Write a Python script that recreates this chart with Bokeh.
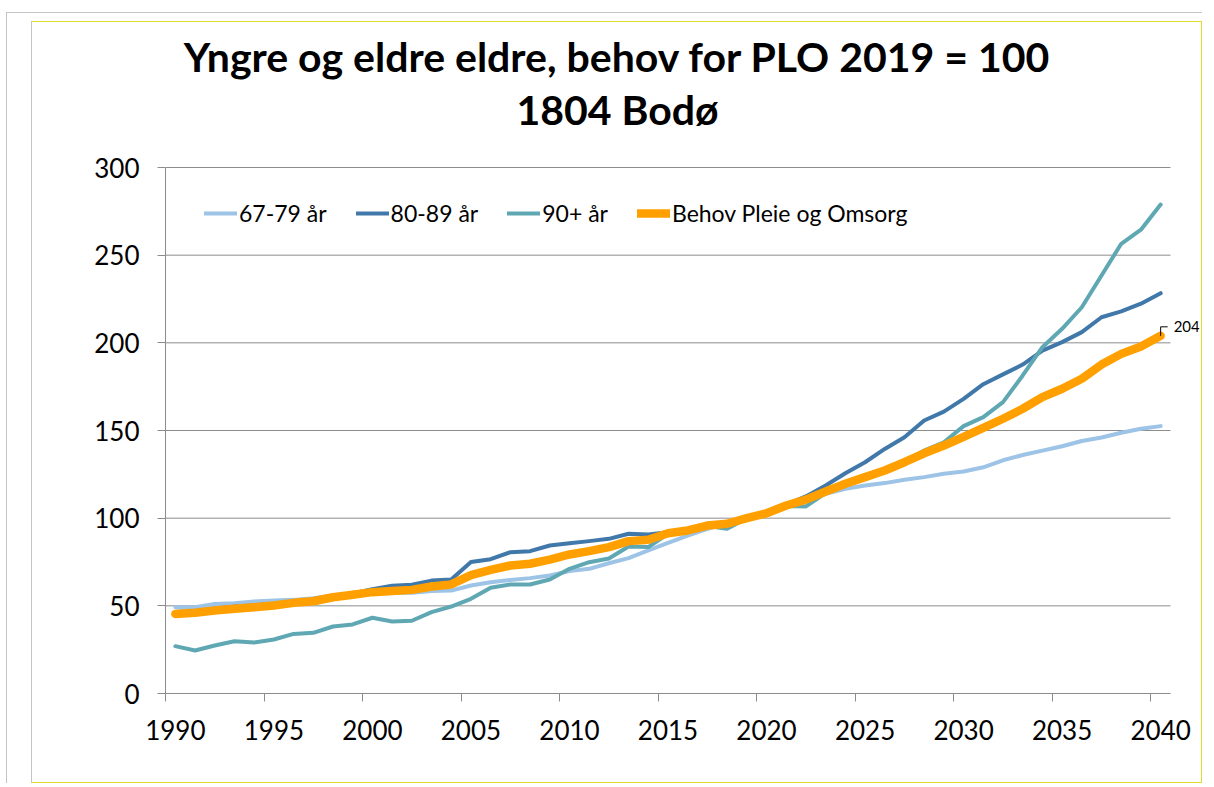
from bokeh.plotting import figure
from bokeh.layouts import column
from bokeh.models import FixedTicker, LinearAxis, Legend, LegendItem, Label, Range1d
from bokeh.embed import file_html
from bokeh.resources import INLINE

# ---------------- data ----------------
years = list(range(1990, 2041))

age_67_79 = [49.2, 49.2, 51.0, 51.5, 52.5, 53.0, 53.4, 54.4, 55.9, 56.8,
             58.2, 57.4, 57.4, 58.4, 58.7, 61.6, 63.5, 64.8, 65.8, 67.3,
             69.8, 71.1, 74.3, 77.2, 81.6, 85.9, 90.1, 93.9, 97.1, 100.0,
             102.5, 106.5, 110.0, 113.9, 116.8, 118.6, 120.0, 121.9, 123.4, 125.3,
             126.6, 129.0, 133.0, 136.0, 138.5, 141.0, 144.0, 146.0, 148.7, 151.0,
             152.5]

age_80_89 = [46.5, 47.0, 48.5, 49.5, 50.3, 51.2, 52.5, 53.5, 55.5, 57.0,
             59.5, 61.5, 62.0, 64.4, 65.0, 75.0, 76.6, 80.6, 81.2, 84.4,
             85.7, 86.9, 88.2, 91.1, 90.7, 92.0, 93.0, 95.5, 96.5, 100.0,
             102.8, 107.8, 112.4, 118.6, 125.6, 131.9, 139.5, 146.2, 155.7, 160.8,
             168.0, 176.4, 182.0, 187.6, 195.6, 200.4, 206.1, 214.6, 217.9, 222.3,
             228.3]

age_90_plus = [27.0, 24.5, 27.4, 29.8, 29.1, 30.8, 34.0, 34.6, 38.2, 39.4,
               43.2, 41.1, 41.5, 46.4, 49.6, 54.0, 60.3, 62.2, 62.2, 65.0,
               71.1, 74.9, 77.0, 83.8, 83.5, 91.0, 92.5, 95.5, 94.0, 100.0,
               102.5, 107.0, 106.7, 114.3, 119.6, 124.0, 127.5, 132.0, 138.6, 143.3,
               152.5, 157.6, 166.2, 181.4, 197.5, 208.0, 220.3, 238.4, 256.5, 264.5,
               278.9]

behov = [45.4, 46.0, 47.3, 48.3, 49.2, 50.2, 51.7, 52.6, 54.9, 56.3,
         57.8, 58.4, 59.1, 61.0, 62.2, 67.5, 70.5, 73.0, 74.0, 76.4,
         79.3, 81.2, 83.5, 86.9, 87.7, 91.4, 93.0, 95.8, 96.8, 100.0,
         102.8, 107.2, 110.6, 115.2, 119.6, 123.4, 127.2, 131.9, 137.0, 141.4,
         146.4, 151.5, 156.7, 162.4, 169.0, 173.8, 179.5, 187.6, 193.7, 197.9,
         204.0]

series_names = ["67-79 år", "80-89 år", "90+ år", "Behov Pleie og Omsorg"]
x_label_years = [1990, 1995, 2000, 2005, 2010, 2015, 2020, 2025, 2030, 2035, 2040]
x_tick_labels = ["1990", "1995", "2000", "2005", "2010", "2015", "2020", "2025", "2030", "2035", "2040"]
y_ticks = [0, 50, 100, 150, 200, 250, 300]
title_lines = ["Yngre og eldre eldre, behov for PLO 2019 = 100", "1804 Bodø"]

# ---------------- styling / layout ----------------
colors = ["#9dc3e6", "#4178aa", "#5fa8b3", "#ffa000"]
widths = [4, 4, 4, 8.5]
FONT = "Lato"
GRAY = "#8c8c8c"

W, H = 1171, 762                # canvas size (inside the chart frame)
AX_L, AX_B = 133, 671           # axis origin on canvas (px)
PX_YEAR = 1005 / 51             # px per category
PX_UNIT = 526 / 300             # px per value unit
FRAME_R = 1167                  # right edge of drawing area on canvas
MB = H - AX_B

ax_start = years[0] - 0.5
ax_end = years[-1] + 0.5
x1 = ax_start + (FRAME_R - AX_L) / PX_YEAR
y_top = AX_B / PX_UNIT

p = figure(width=W, height=H, output_backend="svg", toolbar_location=None,
           x_range=Range1d(ax_start, x1), y_range=Range1d(y_ticks[0], y_top),
           min_border_left=AX_L, min_border_right=W - FRAME_R, min_border_top=0,
           min_border_bottom=MB)
p.background_fill_color = "white"
p.border_fill_color = "white"
p.outline_line_color = None
p.xgrid.visible = False
p.ygrid.visible = False

# horizontal gridlines limited to the axis extent
p.segment(x0=[ax_start] * len(y_ticks), x1=[ax_end] * len(y_ticks), y0=y_ticks, y1=y_ticks,
          line_color=GRAY, line_width=1)

# y axis
ya = p.yaxis[0]
ya.ticker = FixedTicker(ticks=y_ticks)
ya.bounds = (y_ticks[0], y_ticks[-1])
ya.axis_line_color = GRAY
ya.major_tick_line_color = GRAY
ya.major_tick_out = 8
ya.major_tick_in = 0
ya.minor_tick_line_color = None
ya.major_label_text_font = FONT
ya.major_label_text_font_size = "26px"
ya.major_label_text_color = "black"
ya.major_label_standoff = 18

# x axis: tick marks between categories
xa = p.xaxis[0]
boundary_ticks = [yv - 0.5 for yv in x_label_years]
xa.ticker = FixedTicker(ticks=boundary_ticks)
xa.bounds = (ax_start, ax_end)
xa.major_label_overrides = {t: "" for t in boundary_ticks}
xa.major_label_text_font_size = "1px"
xa.major_label_standoff = 0
xa.axis_line_color = GRAY
xa.major_tick_line_color = GRAY
xa.major_tick_out = 8
xa.major_tick_in = 0
xa.minor_tick_line_color = None

# x axis labels centred on categories
xl = LinearAxis(ticker=FixedTicker(ticks=x_label_years),
                major_label_overrides={yv: lbl for yv, lbl in zip(x_label_years, x_tick_labels)},
                axis_line_color=None, major_tick_line_color=None, minor_tick_line_color=None,
                major_label_text_font=FONT, major_label_text_font_size="26px",
                major_label_text_color="black", major_label_standoff=12)
p.add_layout(xl, "below")

# lines
renderers = []
for vals, c, w in zip([age_67_79, age_80_89, age_90_plus, behov], colors, widths):
    r = p.line(years, vals, line_color=c, line_width=w, line_join="round", line_cap="round")
    renderers.append(r)

# data label with leader at last point of Behov
xe, ye = years[-1], behov[-1]
dy = 9 / PX_UNIT
dx = 7 / PX_YEAR
p.line([xe, xe, xe + dx], [ye, ye + dy, ye + dy], line_color="black", line_width=1)
p.add_layout(Label(x=xe, y=ye, text=f"{behov[-1]:.0f}", x_offset=13, y_offset=9,
                   text_baseline="middle", text_align="left", text_font=FONT,
                   text_font_size="15px", text_color="black"))

# legend
legend = Legend(items=[LegendItem(label=n, renderers=[r]) for n, r in zip(series_names, renderers)],
                orientation="horizontal", location=(39, 466), padding=4, margin=0,
                spacing=29, glyph_width=33, glyph_height=20, label_standoff=2,
                label_text_font=FONT, label_text_font_size="23px", label_text_color="black",
                border_line_color=None, background_fill_alpha=0)
p.add_layout(legend)

# two-line title
p.add_layout(Label(x=584, y=33, x_units="canvas", y_units="canvas", text=title_lines[0],
                   text_align="center", text_baseline="alphabetic", text_font=FONT,
                   text_font_style="bold", text_font_size="41px", text_color="black"))
p.add_layout(Label(x=584, y=86, x_units="canvas", y_units="canvas", text=title_lines[1],
                   text_align="center", text_baseline="alphabetic", text_font=FONT,
                   text_font_style="bold", text_font_size="41px", text_color="black"))

# chart frame (yellow) and outer sheet border (gray)
p.styles = {"border-top": "1px solid #dede2a", "border-right": "1px solid #dede2a",
            "border-bottom": "1px solid #dede2a", "border-left": "1px solid #c4c4c4"}
page = column(p, styles={"margin-left": "6px", "margin-top": "12px",
                         "border-top": "1px solid #c4c4c4", "border-left": "1px solid #c4c4c4",
                         "padding-left": "24px", "padding-top": "8px"})

open("out.html", "w").write(file_html(page, INLINE))
